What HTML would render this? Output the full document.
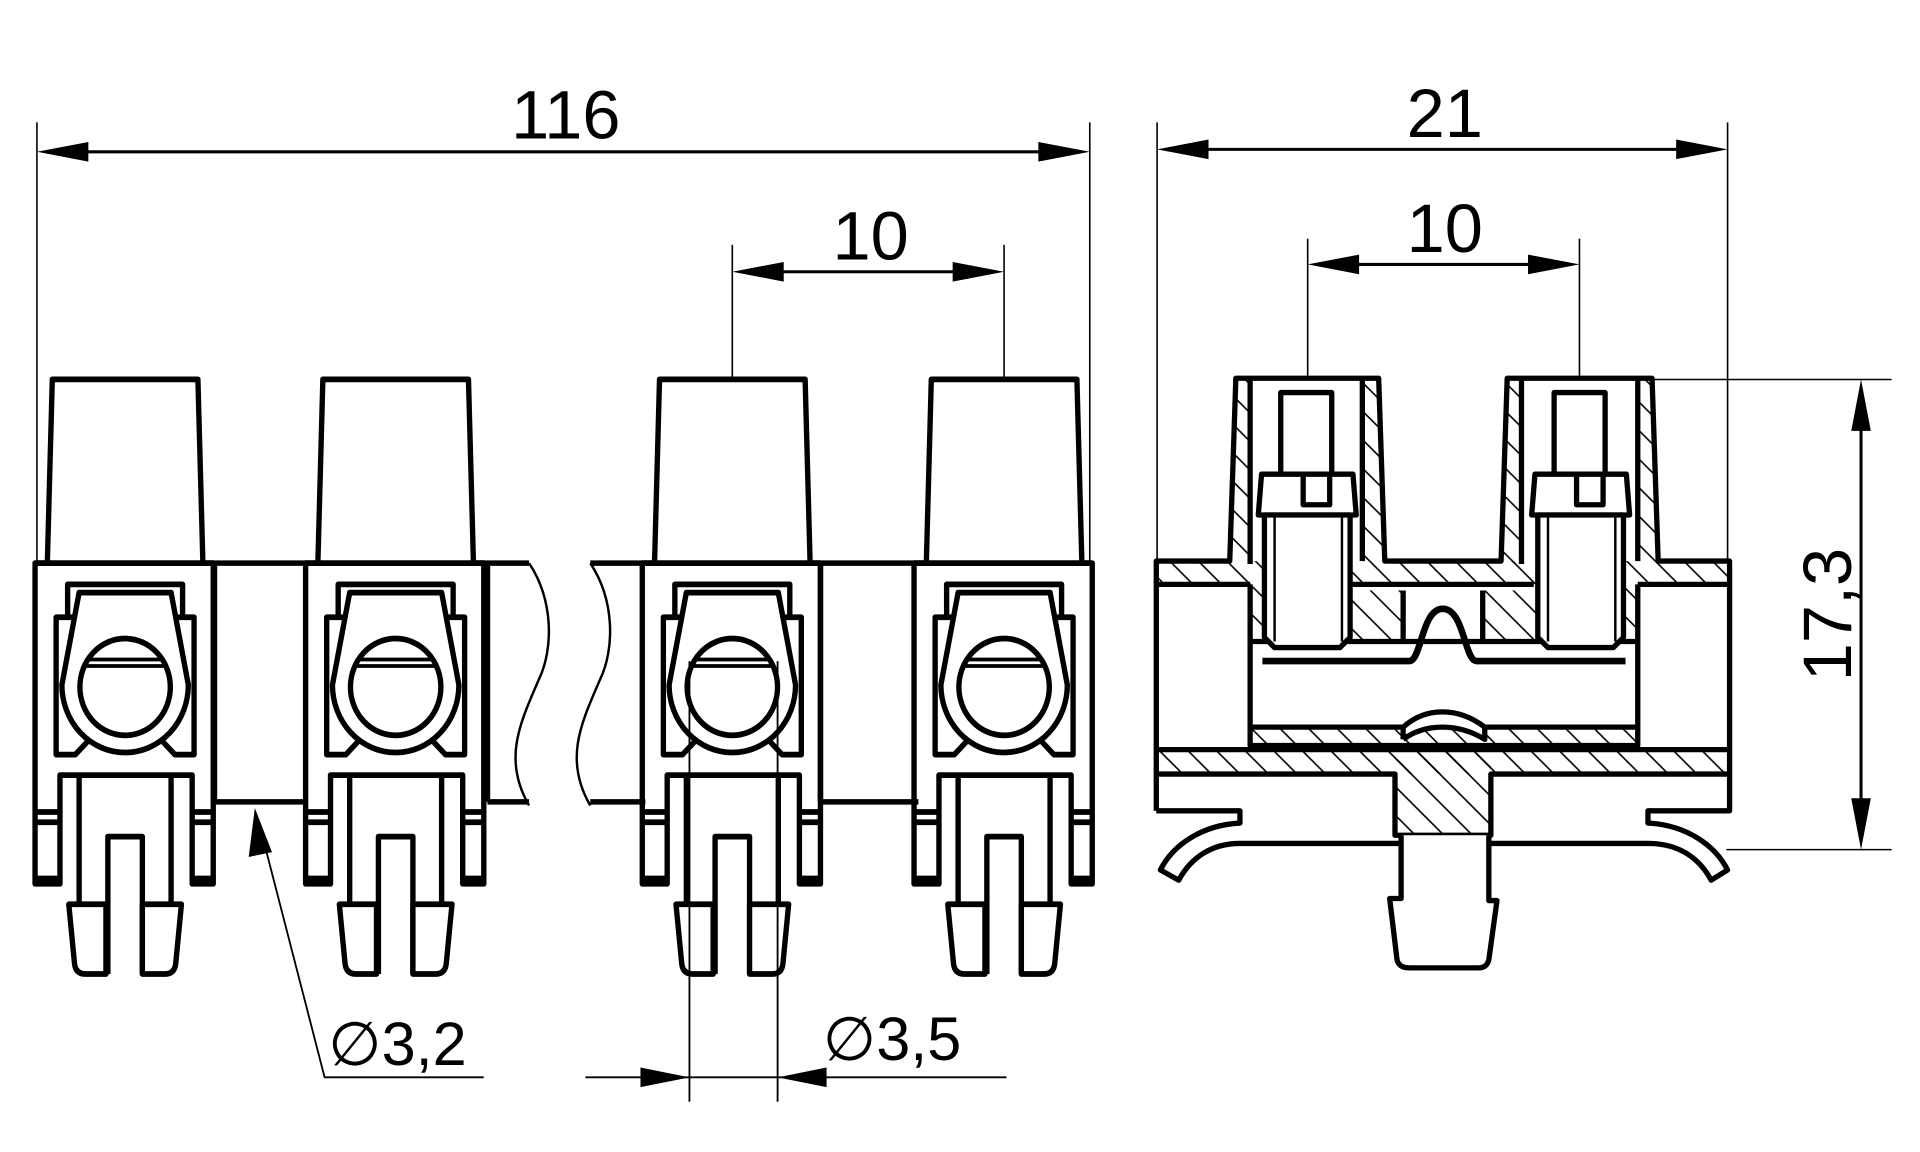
<!DOCTYPE html>
<html><head><meta charset="utf-8"><style>html,body{margin:0;padding:0;background:#fff}svg{display:block}</style></head>
<body>
<svg width="1920" height="1152" viewBox="0 0 1568 941" xmlns="http://www.w3.org/2000/svg" font-family="Liberation Sans, sans-serif">
<defs>
<pattern id="h" patternUnits="userSpaceOnUse" width="70" height="70">
<path d="M-10,-10 L80,80 M-80,-10 L10,80 M60,-10 L150,80" stroke="#000" stroke-width="4"/>
</pattern>
<g id="mod" fill="none" stroke="#000" stroke-width="14" stroke-linejoin="round">
<path d="M122,493 L135,45 H515 L528,493" fill="#fff"/>
<path d="M90,1275 V493 H555 V1275 H500 V1010 H155 V1275 Z"/>
<path d="M90,1100 H155 M90,1125 H155 M90,1262 H155 M500,1100 H555 M500,1125 H555 M500,1262 H555"/>
<path d="M145,625 H505 V960 H455 L420,925 H230 L195,960 H145 Z"/>
<path d="M175,625 V545 H475 V625"/>
<path d="M205,565 H445 L490,790 A165,165 0 0 1 160,790 Z" fill="#fff"/>
<circle cx="325" cy="795" r="118" fill="#fff"/>
<path d="M232,728 H418 M222,744 H428" stroke-width="9"/>
<path d="M205,1010 V1325 M445,1010 V1325"/>
<path d="M280,1495 V1160 H370 V1495"/>
<path d="M178,1325 H275 V1495 H222 Q196,1495 193,1470 Z" fill="#fff"/>
<path d="M370,1325 H472 L457,1470 Q454,1495 428,1495 H370 Z" fill="#fff"/>
</g>
</defs>

<!-- dimension lines -->
<g stroke="#000" stroke-width="1.3" fill="none">
<path d="M30,100 V460 M890,100 V460 M945,100 V460 M1411,100 V460"/>
<path d="M598,200 V308 M820,200 V308 M1068,195 V308 M1290,195 V308"/>
<path d="M1340,310 H1545 M1410,694 H1545"/>
</g>
<g stroke="#000" stroke-width="2.5">
<path d="M60,124 H860 M975,122 H1380 M630,222 H790 M1100,216 H1258 M1520,340 V664"/>
</g>
<g fill="#000">
<path d="M30,124 L72,116 V132 Z M890,124 L848,116 V132 Z"/>
<path d="M945,122 L987,114 V130 Z M1411,122 L1369,114 V130 Z"/>
<path d="M598,222 L640,214 V230 Z M820,222 L778,214 V230 Z"/>
<path d="M1068,216 L1110,208 V224 Z M1290,216 L1248,208 V224 Z"/>
<path d="M1520,310 L1512,352 H1528 Z M1520,694 L1512,652 H1528 Z"/>
</g>
<g font-size="56" text-anchor="middle" fill="#000">
<text x="462" y="113">116</text>
<text x="1180" y="112">21</text>
<text x="711" y="212">10</text>
<text x="1180" y="206">10</text>
<text transform="translate(1512,502) rotate(-90)">17,3</text>
</g>

<!-- front view bands -->
<g stroke="#000" fill="none">
<path d="M30,460 H432 M482,460 H890" stroke-width="4.5"/>
<path d="M175,655 H250 M398,655 H432 M482,655 H527 M670,655 H750" stroke-width="4.5"/>
<path d="M432,460 C452,490 452,530 440,555 C425,590 410,620 432,658" stroke-width="2"/>
<path d="M482,460 C502,490 502,530 490,555 C475,590 460,620 482,658" stroke-width="2"/>
<path d="M175,460 V655 M398,460 V655 M670,460 V655" stroke-width="4.5"/>
</g>
<use href="#mod" transform="translate(0.3,294.8) scale(0.313,0.335)"/>
<use href="#mod" transform="translate(221.3,294.8) scale(0.313,0.335)"/>
<use href="#mod" transform="translate(496.3,294.8) scale(0.313,0.335)"/>
<use href="#mod" transform="translate(718.3,294.8) scale(0.313,0.335)"/>

<!-- leaders -->
<g stroke="#000" stroke-width="1.5" fill="none">
<path d="M216,690 L265,880 H395"/>
<path d="M563,540 V900 M635,540 V900 M478,880 H822"/>
</g>
<g fill="#000">
<path d="M208,660 L203,700 L222,696 Z"/>
<path d="M563,880 L523,872 V888 Z M635,880 L675,872 V888 Z"/>
</g>
<g font-size="50" fill="#000">
<text x="268" y="870">∅3,2</text>
<text x="672" y="866">∅3,5</text>
</g>

<!-- side view -->
<g transform="translate(931,294) scale(0.3333)" stroke="#000" stroke-width="13" stroke-linejoin="round">
<g fill="url(#h)" stroke="none">
<rect x="40" y="493" width="1405" height="57"/>
<path d="M235,45 H270 V500 L220,493 Z M545,45 H585 L600,493 H545 Z"/>
<path d="M900,45 H935 V500 L885,493 Z M1220,45 H1255 L1270,493 H1220 Z"/>
<rect x="40" y="955" width="1405" height="60"/>
<rect x="625" y="955" width="235" height="210"/>
<rect x="270" y="900" width="950" height="45"/>
<rect x="515" y="565" width="130" height="125"/>
<rect x="840" y="565" width="130" height="125"/>
<rect x="270" y="555" width="30" height="135"/>
<rect x="1190" y="555" width="30" height="135"/>
</g>
<g fill="none">
<path d="M40,1105 V493 H220 L235,45 H585 L600,493 H885 L900,45 H1255 L1270,493 H1445 V1105 H1245 V1135 C1340,1140 1410,1190 1440,1250 L1400,1275 C1370,1220 1320,1185 1245,1185 H860"/>
<path d="M40,1105 H245 V1135 C150,1140 80,1190 50,1250 L95,1275 C125,1220 175,1185 245,1185 H640"/>
<path d="M270,45 V500 M545,45 V493 M935,45 V500 M1220,45 V493"/>
<path d="M40,550 H270 M1220,550 H1445 M520,550 H965"/>
<path d="M270,550 V945 H1220 V550"/>
<path d="M270,690 H1220"/>
<path d="M270,900 H645 M845,900 H1220"/>
<path d="M645,565 V690 M840,565 V690"/>
<path d="M40,955 H1445 M40,1015 H625 V1165 H860 V1015 H1445"/>
<path d="M645,930 V900 C700,850 780,850 845,900 V930 C780,890 700,890 645,930" fill="#fff"/>
<path d="M640,1165 V1320 H612 L630,1470 Q635,1490 660,1490 H830 Q850,1490 855,1470 L875,1325 H855 V1165" fill="#fff"/>
</g>
<path d="M300,738 H660 C690,738 690,610 742,610 C795,610 795,738 825,738 H1190" fill="none" stroke-width="16"/>
<!-- pushers -->
<g fill="#fff">
<rect x="345" y="80" width="125" height="200"/>
<path d="M290,380 L298,280 H522 L530,380 Z"/>
<path d="M400,285 V355 H465 V285" fill="none"/>
<path d="M305,380 V680 L330,705 H490 L515,680 V380 Z"/>
<path d="M330,380 V690 M495,380 V690" fill="none" stroke-width="6"/>
<rect x="1015" y="80" width="125" height="200"/>
<path d="M960,380 L968,280 H1192 L1200,380 Z"/>
<path d="M1070,285 V355 H1135 V285" fill="none"/>
<path d="M975,380 V680 L1000,705 H1160 L1185,680 V380 Z"/>
<path d="M1000,380 V690 M1165,380 V690" fill="none" stroke-width="6"/>
</g>
</g>
</svg>
</body></html>
